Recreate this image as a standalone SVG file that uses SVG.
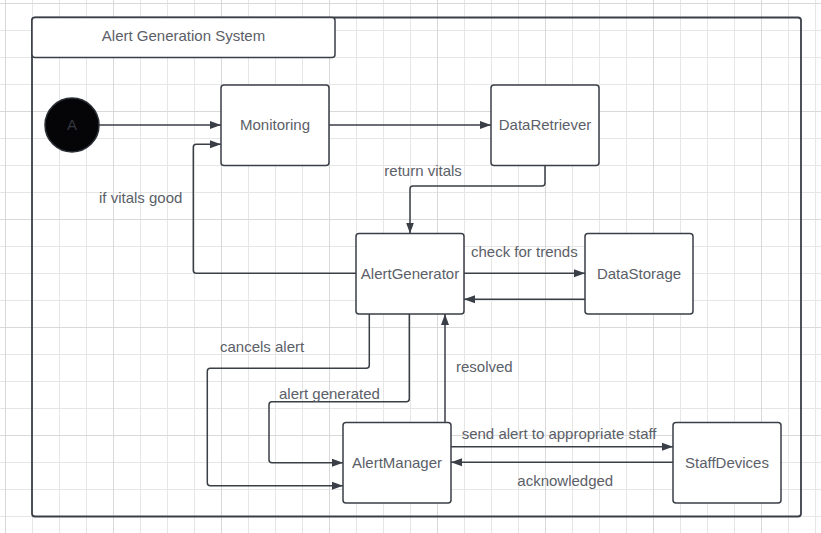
<svg xmlns="http://www.w3.org/2000/svg" width="821" height="533" viewBox="0 0 821 533">
<defs>
<pattern id="grid" x="5" y="3" width="27" height="27" patternUnits="userSpaceOnUse">
<path d="M0.5 0V27M0 0.5H27" stroke="#e6e6e6" stroke-width="1" fill="none"/>
</pattern>
<pattern id="gridMajor" x="5" y="3" width="108" height="108" patternUnits="userSpaceOnUse">
<path d="M0.5 0V108M0 0.5H108" stroke="#d9d9d9" stroke-width="1" fill="none"/>
</pattern>
<marker id="arrow" markerWidth="12" markerHeight="10" refX="11" refY="4.5" orient="auto" markerUnits="userSpaceOnUse">
<path d="M0 0.5L11 4.5L0 8.5Z" fill="#3a3f47"/>
</marker>
</defs>
<style>
.node rect{fill:#ffffff;stroke:#3a3f47;stroke-width:1.5}
.lbl{font-family:"Liberation Sans",Arial,sans-serif;font-size:15px;fill:#5b6068}
.ntext{font-family:"Liberation Sans",Arial,sans-serif;font-size:15px;fill:#5b6068;text-anchor:middle}
.conn path{fill:none;stroke:#3a3f47;stroke-width:1.5;marker-end:url(#arrow)}
</style>
<rect width="821" height="533" fill="#ffffff"/>
<rect width="821" height="533" fill="url(#grid)"/>
<rect width="821" height="533" fill="url(#gridMajor)"/>

<g id="container">
<rect x="32" y="17.5" width="769" height="499" rx="3" fill="none" stroke="#3a3f47" stroke-width="1.8"/>
<rect x="32" y="17.5" width="303" height="40" rx="3" fill="#ffffff" stroke="#3a3f47" stroke-width="1.5"/>
<text class="ntext" x="183.5" y="41.4">Alert Generation System</text>
</g>

<g id="start">
<circle cx="72" cy="125" r="27" fill="#050508" stroke="#2b2f36" stroke-width="1.5"/>
<text x="72" y="130.4" font-family="'Liberation Sans',Arial,sans-serif" font-size="15" fill="#34373d" text-anchor="middle">A</text>
</g>

<g id="monitoring" class="node">
<rect x="221" y="85" width="108" height="80.5" rx="3"/>
<text class="ntext" x="275" y="130.4">Monitoring</text>
</g>

<g id="dataretriever" class="node">
<rect x="491" y="85" width="108" height="80.5" rx="3"/>
<text class="ntext" x="545" y="130.4">DataRetriever</text>
</g>

<g id="alertgenerator" class="node">
<rect x="356" y="233.5" width="108" height="80.5" rx="3"/>
<text class="ntext" x="410" y="278.6">AlertGenerator</text>
</g>

<g id="datastorage" class="node">
<rect x="585" y="233.5" width="108" height="80.5" rx="3"/>
<text class="ntext" x="639" y="278.6">DataStorage</text>
</g>

<g id="alertmanager" class="node">
<rect x="343" y="422.5" width="108" height="80.5" rx="3"/>
<text class="ntext" x="397" y="467.8">AlertManager</text>
</g>

<g id="staffdevices" class="node">
<rect x="673" y="422.5" width="108" height="80.5" rx="3"/>
<text class="ntext" x="727" y="467.8">StaffDevices</text>
</g>

<g id="connectors" class="conn">
<path d="M99 125H221"/>
<path d="M329 125H491"/>
<path d="M545 165.5V183Q545 186 542 186H413Q410 186 410 189V233.5"/>
<path d="M356 273.3H196.3Q193.3 273.3 193.3 270.3V147.3Q193.3 144.3 196.3 144.3H221"/>
<path d="M464 273.3H585"/>
<path d="M585 299.3H464"/>
<path d="M369.3 314V365.3Q369.3 368.3 366.3 368.3H210.3Q207.3 368.3 207.3 371.3V482.7Q207.3 485.7 210.3 485.7H343"/>
<path d="M409.3 314V398.7Q409.3 401.7 406.3 401.7H272Q269 401.7 269 404.7V459.7Q269 462.7 272 462.7H343"/>
<path d="M445 422.5V314"/>
<path d="M451 446.7H673"/>
<path d="M673 462.3H451"/>
</g>

<g id="labels">
<text class="lbl" x="99" y="203">if vitals good</text>
<text class="lbl" x="384.3" y="176">return vitals</text>
<text class="lbl" x="471" y="257">check for trends</text>
<text class="lbl" x="220" y="352">cancels alert</text>
<text class="lbl" x="279" y="398.6">alert generated</text>
<text class="lbl" x="456" y="372">resolved</text>
<text class="lbl" x="461.7" y="439.3">send alert to appropriate staff</text>
<text class="lbl" x="517.3" y="486.3">acknowledged</text>
</g>
</svg>
